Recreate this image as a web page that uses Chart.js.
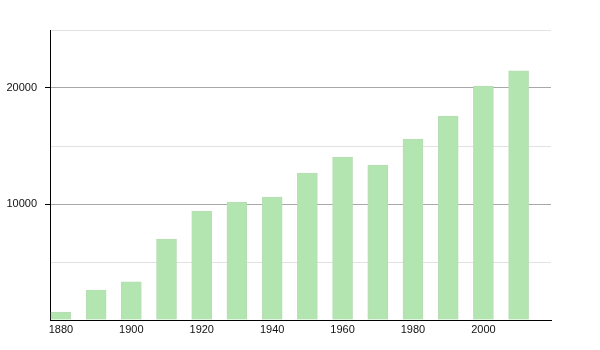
<!DOCTYPE html>
<html>
<head>
<meta charset="utf-8">
<script src="https://cdn.jsdelivr.net/npm/chart.js@4/dist/chart.umd.min.js"></script>
<style>
html,body{margin:0;padding:0;background:#fff;}
#wrap{width:600px;height:350px;position:relative;}
</style>
</head>
<body>
<div id="wrap"><canvas id="c" width="600" height="350"></canvas></div>
<script>
const years = [1880, 1890, 1900, 1910, 1920, 1930, 1940, 1950, 1960, 1970, 1980, 1990, 2000, 2010];
const population = [690, 2590, 3280, 6980, 9400, 10170, 10600, 12670, 14050, 13360, 15600, 17590, 20170, 21470];
const xTickLabels = [1880, 1900, 1920, 1940, 1960, 1980, 2000];
const yLabelValues = [10000, 20000];

const points = years.map((y, i) => ({x: y, y: population[i]}));

new Chart(document.getElementById('c'), {
  type: 'bar',
  data: {
    datasets: [{
      data: points,
      backgroundColor: '#b3e5b0',
      borderColor: '#b8dcb5',
      borderWidth: 1,
      barThickness: 20
    }]
  },
  options: {
    responsive: false,
    animation: false,
    plugins: {legend: {display: false}, tooltip: {enabled: false}},
    layout: {padding: {top: 30, right: 49, bottom: 0, left: 0}},
    scales: {
      x: {
        type: 'linear',
        offset: false,
        min: 1876.9,
        max: 2019.2,
        afterBuildTicks: (s) => { s.ticks = xTickLabels.map(v => ({value: v})); },
        afterFit: (s) => { s.height = 30; },
        grid: {display: false, drawTicks: false, offset: false},
        border: {display: true, color: '#000', width: 1},
        ticks: {
          color: '#111',
          padding: 3,
          font: {family: 'Liberation Sans, Arial, sans-serif', size: 11},
          callback: (v) => String(v),
          maxRotation: 0,
          autoSkip: false
        }
      },
      y: {
        min: 0,
        max: 25000,
        afterFit: (s) => { s.width = 50; },
        grid: {
          color: (ctx) => (ctx.tick && ctx.tick.value % 10000 === 0) ? '#a8a8a8' : '#e2e2e2',
          tickColor: (ctx) => (ctx.tick && yLabelValues.includes(ctx.tick.value)) ? '#000' : 'rgba(0,0,0,0)',
          tickLength: 5,
          lineWidth: 1
        },
        border: {display: true, color: '#000', width: 1},
        ticks: {
          stepSize: 5000,
          color: '#111',
          padding: 8,
          font: {family: 'Liberation Sans, Arial, sans-serif', size: 11},
          callback: (v) => yLabelValues.includes(v) ? String(v) : ''
        }
      }
    }
  }
});
</script>
</body>
</html>
